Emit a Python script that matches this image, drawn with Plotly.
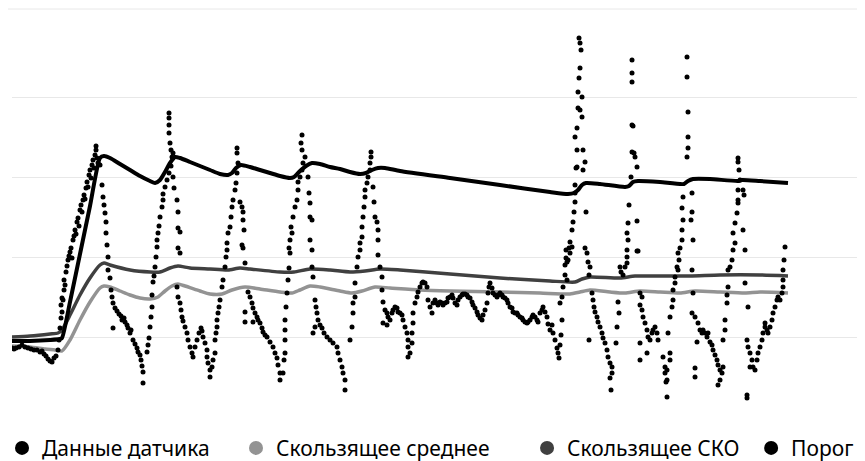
import plotly.graph_objects as go

# ---------------- data (time index, sensor value) ----------------
# Sensor readings, grouped by cycle of the signal
sensor_start = [(12,69),(14,68),(16,69),(19,70),(22,72),(25,70),(28,69),(31,68),(34,67),(37,67),
                (40,65),(42,66),(44,63),(46,61),(48,58),(50,56),(52,55),(54,59),(56,61),(58,67)]
sensor_rise1 = [(59,77),(60,89),(61,99),(61,112),(62,105),(62,119),(63,117),(64,127),(64,137),(65,132),
                (66,145),(67,151),(68,157),(69,161),(70,165),(71,169),(72,159),(73,177),(74,181),(75,187),
                (76,183),(77,195),(78,199),(79,191),(80,207),(81,212),(82,205),(83,217),(84,222),(85,218),
                (86,229),(87,235),(88,230),(89,242),(90,247),(91,239),(92,252),(93,257),(94,249),(95,262),
                (96,267),(96,271),(97,259),(98,254),(100,252)]
sensor_fall1 = [(102,232),(103,220),(104,212),(105,204),(106,195),(106,184),(107,172),(108,160),(108,147),
                (110,139),(111,127),(112,120),(113,114),(115,109),(113,89),(117,106),(119,103),(121,101),
                (122,97),(124,99),(125,95),(127,92),(128,89),(130,84),(131,87),(133,77),(135,73),(137,69),
                (138,65),(140,62),(141,57),(142,51),(143,45),(143,34)]
sensor_rise2 = [(147,65),(148,72),(149,79),(150,90),(151,100),(152,110),(152,122),(153,135),(154,141),
                (155,150),(156,160),(157,170),(157,177),(158,184),(159,191),(160,200),(162,210),(163,217),
                (163,223),(165,230),(167,237),(169,244),(171,251),(172,260),(171,267),(170,274),(169,284),
                (169,292),(169,299),(169,304)]
sensor_fall2 = [(173,264),(173,240),(174,229),(177,217),(178,205),(178,189),(180,185),(178,169),(180,164),
                (177,130),(178,120),(180,114),(181,107),(182,100),(183,96),(185,90),(187,84),(188,77),
                (190,70),(192,64),(193,60),(195,70),(197,77),(199,84),(201,89),(202,86),(203,80),(205,74),
                (207,67),(207,60),(208,54),(210,47),(210,40)]
sensor_rise3 = [(212,50),(213,57),(215,64),(215,77),(216,84),(217,90),(217,97),(218,104),(219,110),
                (220,117),(222,130),(223,137),(225,150),(226,160),(227,167),(227,174),(228,184),(230,190),
                (231,200),(232,210),(233,217),(235,227),(236,234),(237,244),(238,254),(237,264),(237,269)]
sensor_fall3 = [(240,215),(242,210),(243,205),(243,197),(244,187),(242,172),(243,169),(245,154),(245,105),
                (245,95),(248,125),(250,120),(252,114),(253,109),(253,95),(255,104),(257,100),(258,97),
                (260,94),(262,89),(263,85),(265,82),(267,80),(270,75),(273,70),(275,64),(277,59),(278,52),
                (280,44),(280,37)]
sensor_rise4 = [(283,44),(284,57),(285,64),(285,77),(285,87),(285,97),(286,110),(287,124),(288,137),
                (289,149),(290,164),(289,169),(290,177),(292,184),(291,190),(293,200),(295,210),(297,217),
                (298,227),(298,235),(300,240),(302,247),(303,254),(305,260),(302,267),(301,274),(302,282)]
sensor_fall4 = [(308,240),(309,224),(310,214),(310,200),(312,197),(310,177),(312,167),(312,150),(313,140),
                (315,117),(316,110),(317,104),(318,97),(315,90),(313,84),(320,92),(322,89),(324,84),
                (327,80),(330,77),(333,74),(337,70),(338,64),(340,57),(342,50),(343,44),(345,37),(345,27)]
sensor_rise5 = [(350,77),(352,90),(353,104),(353,114),(355,120),(355,134),(357,150),(358,160),(360,167),
                (360,174),(362,180),(362,190),(363,200),(364,210),(365,220),(365,227),(367,234),(368,240),
                (370,247),(370,254),(371,260),(371,265)]
sensor_fall5 = [(373,230),(374,215),(375,200),(377,195),(378,187),(378,177),(378,162),(380,150),(382,140),
                (382,127),(383,115),(383,94),(385,107),(387,104),(387,92),(388,100),(390,97),(392,104),
                (393,107),(395,110),(397,109),(398,105),(400,104),(402,102),(403,97),(405,90),(407,84),
                (408,77),(408,70),(408,60),(410,64),(412,74),(412,84),(413,94),(413,104),(415,114),
                (417,120),(418,125),(420,130),(422,134),(423,135),(425,134),(427,130)]
sensor_plateau = [(428,117),(430,110),(432,104),(433,114),(435,117),(437,114),(438,112),(440,115),(442,114),
                  (443,112),(445,114),(447,115),(448,119),(450,120),(452,122),(453,119),(455,114),(457,112),
                  (458,117),(460,120),(462,122),(463,123),(465,123),(467,122),(468,120),(470,119),(472,115),
                  (473,112),(475,109),(477,105),(478,102),(480,99),(482,97),(483,102),(485,107),(487,114),
                  (488,124),(489,130),(490,134),(492,129),(493,124),(495,122),(497,120),(498,122),(500,124),
                  (502,122),(503,120),(505,119),(507,117),(508,114),(510,110),(512,109),(513,105),(515,104),
                  (517,104),(518,102),(520,100),(522,99),(523,97),(525,95),(527,94),(528,95),(530,97),
                  (532,100),(533,102),(535,100),(537,97),(538,95),(540,104),(542,107),(543,110),(545,105),
                  (547,100),(548,93)]
sensor_spike6 = [(550,87),(552,92),(553,84),(555,77),(557,69),(558,64),(559,59),(560,72),(560,114),(561,82),
                 (562,120),(562,97),(563,130),(565,142),(565,152),(566,159),(566,167),(567,137),(567,155),
                 (568,157),(569,169),(570,164),(570,175),(572,170),(572,187),(573,195),(574,205),(575,215),
                 (575,224),(575,232),(576,249),(577,250),(577,267),(575,280),(577,289),(578,309),(578,325),
                 (579,339),(580,349),(581,367),(580,374),(579,379),(580,307),(582,320),(582,300),(583,267),
                 (585,255),(583,247),(586,205),(585,169),(587,164),(588,155),(590,150),(589,142),(589,77),
                 (592,124),(593,117),(594,110),(595,105),(597,100),(598,95),(600,90),(602,84),(603,79),
                 (605,74),(607,67),(608,60),(610,54),(612,50),(612,44),(610,39),(611,27)]
sensor_spike7 = [(616,74),(617,90),(619,104),(618,115),(621,145),(620,150),(623,142),(625,150),(627,154),
                 (627,160),(627,167),(628,177),(627,184),(628,194),(629,212),(631,240),(632,265),(634,264),
                 (633,291),(632,292),(632,335),(632,344),(632,357),(635,260),(637,250),(637,196),(637,166),
                 (638,166),(640,124),(640,112),(642,120),(642,107),(643,100),(645,94),(647,87),(648,80),
                 (650,77),(652,84),(653,87),(655,90),(657,84),(658,77),(640,74),(640,57),(647,64),(663,60),
                 (665,50),(665,44),(666,35),(667,20)]
sensor_spike8 = [(667,37),(667,47),(670,57),(670,64),(668,84),(670,100),(672,110),(673,117),(673,127),
                 (675,134),(675,140),(678,147),(677,150),(679,157),(678,164),(680,169),(682,177),(682,187),
                 (683,197),(682,209),(683,220),(687,260),(688,269),(688,280),(688,305),(687,340),(687,360),
                 (692,224),(692,205),(691,197),(693,177),(692,147),(693,124),(692,104),(695,100),(697,75),
                 (698,94),(700,87),(702,84),(703,87),(705,84),(707,80),(708,84),(710,75),(712,72),(713,67),
                 (715,62),(717,57),(718,52),(720,47),(722,44),(720,37),(718,32),(695,49),(695,40)]
sensor_spike9 = [(723,50),(723,77),(725,87),(725,97),(727,114),(727,122),(728,130),(728,147),(730,150),
                 (732,157),(733,167),(735,174),(733,184),(735,194),(737,204),(738,214),(738,217),(738,227),
                 (740,237),(739,247),(738,255),(738,259),(743,227),(744,222),(743,187),(745,167),(745,134),
                 (748,110),(747,77),(748,70),(750,64),(752,57),(753,50),(755,47),(747,22),(747,19),(750,50)]
sensor_end = [(757,57),(758,64),(760,70),(762,77),(763,84),(765,90),(765,94),(767,87),(768,84),(770,90),
              (772,97),(773,104),(775,110),(777,117),(778,120),(780,117),(782,124),(783,130),(783,137),
              (783,147),(784,157),(785,170)]

# Moving average
mean_t = [12,30,45,55,62,70,80,90,100,104,110,120,130,140,150,158,165,172,178,185,200,210,222,232,245,
          260,280,292,300,310,320,340,352,362,375,390,420,450,500,540,570,580,590,610,625,640,660,680,
          695,720,745,760,788]
mean_v = [71,70,68,67,66,77,97,115,129,131,130,126,122,119,118,120,126,131,133,131,126,123,123,127,130,
          128,125,124,127,131,130,126,124,126,130,129,127,126,125,124,123,125,127,125,124,126,125,124,
          126,125,124,125,124]

# Moving standard deviation
sko_t = [12,30,50,58,62,70,80,90,100,104,110,130,150,160,170,178,190,210,228,240,250,280,294,310,330,
         350,365,380,400,450,500,550,575,582,590,620,635,660,690,720,760,788]
sko_v = [80,81,83,84,87,102,122,139,152,154,152,147,145,145,149,151,149,148,147,149,148,145,145,148,147,
         145,146,148,147,143,139,136,135,138,140,139,141,141,141,142,142,141]

# Threshold
thr_t = [12,30,50,60,62,70,80,90,100,104,110,120,130,140,150,155,160,165,170,175,180,190,200,210,220,
         228,232,236,241,250,260,270,280,290,294,300,306,312,320,330,340,350,360,366,372,378,385,400,
         450,500,550,568,574,578,582,586,600,625,629,633,638,660,684,688,693,710,738,742,760,788]
thr_v = [76,76,77,78,79,115,163,211,259,261,259,253,247,241,236,234,237,245,254,260,259,255,251,247,243,
         242,244,249,252,250,247,244,241,239,240,246,251,254,253,250,248,245,243,244,247,249,249,246,
         239,232,225,223,224,227,232,234,233,230,231,235,236,235,233,236,238,238,236,237,236,234]

legend_names = ["Данные датчика", "Скользящее среднее", "Скользящее СКО", "Порог"]
legend_colors = ["#000000", "#939393", "#404040", "#000000"]

sensor = (sensor_start + sensor_rise1 + sensor_fall1 + sensor_rise2 + sensor_fall2 + sensor_rise3 +
          sensor_fall3 + sensor_rise4 + sensor_fall4 + sensor_rise5 + sensor_fall5 + sensor_plateau +
          sensor_spike6 + sensor_spike7 + sensor_spike8 + sensor_spike9 + sensor_end)
sensor_t = [p[0] for p in sensor]
sensor_v = [p[1] for p in sensor]

fig = go.Figure()
fig.add_trace(go.Scatter(x=mean_t, y=mean_v, mode="lines", showlegend=False,
                         line=dict(color=legend_colors[1], width=3.5, shape="spline", smoothing=0.6)))
fig.add_trace(go.Scatter(x=sko_t, y=sko_v, mode="lines", showlegend=False,
                         line=dict(color=legend_colors[2], width=3.5, shape="spline", smoothing=0.6)))
fig.add_trace(go.Scatter(x=thr_t, y=thr_v, mode="lines", showlegend=False,
                         line=dict(color=legend_colors[3], width=4, shape="spline", smoothing=0.6)))
fig.add_trace(go.Scatter(x=sensor_t, y=sensor_v, mode="markers", showlegend=False,
                         marker=dict(color=legend_colors[0], size=5, line=dict(width=0))))

legend_ids = ["legend", "legend2", "legend3", "legend4"]
legend_x = [-0.0117, 0.2626, 0.6038, 0.8665]
for name, col, lid in zip(legend_names, legend_colors, legend_ids):
    fig.add_trace(go.Scatter(x=[None], y=[None], mode="markers", name=name, legend=lid,
                             marker=dict(color=col, size=14)))

leg_common = dict(orientation="h", xref="paper", yref="container", yanchor="middle", y=0.045,
                  xanchor="left", font=dict(family="Noto Sans", size=21, color="#000000"),
                  bgcolor="rgba(0,0,0,0)", itemwidth=30)
layout_legends = {}
for lid, lx in zip(legend_ids, legend_x):
    layout_legends[lid] = dict(leg_common, x=lx)

fig.update_layout(
    width=865, height=461,
    margin=dict(l=4, r=8, t=9, b=52, autoexpand=False),
    paper_bgcolor="white", plot_bgcolor="white",
    xaxis=dict(range=[12, 865], showgrid=False, showticklabels=False, zeroline=False,
               showline=False, ticks=""),
    yaxis=dict(range=[0, 400], tickvals=[80, 160, 240, 320, 400], showgrid=True,
               gridcolor="#e8e8e8", gridwidth=1, showticklabels=False, zeroline=False,
               showline=False, ticks=""),
    shapes=[dict(type="line", xref="paper", yref="paper", x0=-0.0094, x1=1.01, y0=1.02, y1=1.02,
                 line=dict(color="#e8e8e8", width=1))],
    **layout_legends,
)

fig.write_html("out.html")
